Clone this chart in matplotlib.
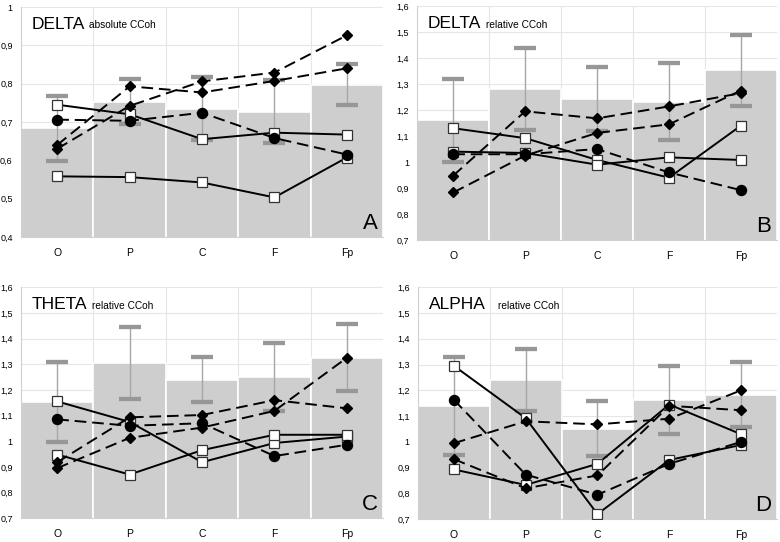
import matplotlib
matplotlib.use('Agg')
import matplotlib.pyplot as plt

plt.rcParams['font.family'] = ['Liberation Sans', 'DejaVu Sans']

regions = ['O', 'P', 'C', 'F', 'Fp']

# ---- Panel A: DELTA absolute CCoh ----
a_mean = [0.683, 0.753, 0.735, 0.727, 0.797]
a_sd = [0.085, 0.058, 0.082, 0.083, 0.053]
a_sq1 = [0.745, 0.720, 0.655, 0.672, 0.667]
a_sq2 = [0.558, 0.556, 0.542, 0.503, 0.607]
a_circ = [0.706, 0.703, 0.724, 0.658, 0.615]
a_dia1 = [0.640, 0.793, 0.777, 0.807, 0.840]
a_dia2 = [0.630, 0.742, 0.806, 0.829, 0.926]
a_yticks = [0.4, 0.5, 0.6, 0.7, 0.8, 0.9, 1.0]
a_yticklabels = ['0,4', '0,5', '0,6', '0,7', '0,8', '0,9', '1']

# ---- Panel B: DELTA relative CCoh ----
b_mean = [1.160, 1.280, 1.243, 1.232, 1.352]
b_sd = [0.160, 0.157, 0.122, 0.148, 0.137]
b_sq1 = [1.130, 1.092, 1.008, 0.940, 1.140]
b_sq2 = [1.040, 1.035, 0.990, 1.018, 1.008]
b_circ = [1.030, 1.030, 1.050, 0.960, 0.892]
b_dia1 = [0.948, 1.195, 1.168, 1.214, 1.265]
b_dia2 = [0.883, 1.025, 1.112, 1.145, 1.275]

# ---- Panel C: THETA relative CCoh ----
c_mean = [1.152, 1.305, 1.240, 1.250, 1.325]
c_sd = [0.156, 0.140, 0.087, 0.133, 0.130]
c_sq1 = [1.155, 1.075, 0.918, 0.993, 1.018]
c_sq2 = [0.948, 0.870, 0.965, 1.025, 1.025]
c_circ = [1.085, 1.060, 1.070, 0.942, 0.986]
c_dia1 = [0.918, 1.093, 1.102, 1.160, 1.128]
c_dia2 = [0.895, 1.013, 1.053, 1.118, 1.325]

# ---- Panel D: ALPHA relative CCoh ----
d_mean = [1.140, 1.240, 1.052, 1.163, 1.183]
d_sd = [0.190, 0.120, 0.106, 0.133, 0.126]
d_sq1 = [1.295, 1.092, 0.720, 0.930, 0.988]
d_sq2 = [0.893, 0.833, 0.915, 1.145, 1.030]
d_circ = [1.163, 0.873, 0.795, 0.915, 1.000]
d_dia1 = [0.995, 1.080, 1.068, 1.090, 1.200]
d_dia2 = [0.933, 0.820, 0.870, 1.140, 1.123]

rel_yticks = [0.7, 0.8, 0.9, 1.0, 1.1, 1.2, 1.3, 1.4, 1.5, 1.6]
rel_yticklabels = ['0,7', '0,8', '0,9', '1', '1,1', '1,2', '1,3', '1,4', '1,5', '1,6']

titles_big = ['DELTA', 'DELTA', 'THETA', 'ALPHA']
titles_small = ['absolute CCoh', 'relative CCoh', 'relative CCoh', 'relative CCoh']
letters = ['A', 'B', 'C', 'D']

fig = plt.figure(figsize=(7.8, 5.42), dpi=100)
positions = [
    [0.027, 0.563, 0.464, 0.424],
    [0.535, 0.557, 0.461, 0.432],
    [0.027, 0.044, 0.464, 0.426],
    [0.536, 0.042, 0.460, 0.428],
]

panels = [
    (a_mean, a_sd, a_sq1, a_sq2, a_circ, a_dia1, a_dia2, a_yticks, a_yticklabels),
    (b_mean, b_sd, b_sq1, b_sq2, b_circ, b_dia1, b_dia2, rel_yticks, rel_yticklabels),
    (c_mean, c_sd, c_sq1, c_sq2, c_circ, c_dia1, c_dia2, rel_yticks, rel_yticklabels),
    (d_mean, d_sd, d_sq1, d_sq2, d_circ, d_dia1, d_dia2, rel_yticks, rel_yticklabels),
]
title_gaps = [3, 3, 3, 9]

x = list(range(len(regions)))
dash = (6, 3)

for i, (pos, data) in enumerate(zip(positions, panels)):
    mean, sd, sq1, sq2, circ, dia1, dia2, yt, ytl = data
    ax = fig.add_axes(pos)
    ax.set_xlim(-0.5, len(regions) - 0.5)
    ax.set_ylim(yt[0], yt[-1])
    # grid
    for y in yt:
        ax.axhline(y, color='#e6e6e6', lw=0.8, zorder=0)
    for xb in [k + 0.5 for k in x[:-1]]:
        ax.axvline(xb, color='#e6e6e6', lw=0.8, zorder=0)
    ax.bar(x, mean, width=1.0, color='#cecece', edgecolor='white', linewidth=1.2, zorder=1)
    ax.errorbar(x, mean, yerr=sd, fmt='none', ecolor='#a6a6a6', elinewidth=1.0,
                capsize=7.8, capthick=3.0, zorder=2)
    # caps darker
    ax.plot(x, [m + s for m, s in zip(mean, sd)], ls='none', marker='_', ms=15.6,
            mew=3.0, color='#979797', zorder=2.1)
    ax.plot(x, [m - s for m, s in zip(mean, sd)], ls='none', marker='_', ms=15.6,
            mew=3.0, color='#979797', zorder=2.1)
    # patients
    for s in (sq1, sq2):
        ax.plot(x, s, color='black', lw=1.4, marker='s', ms=6.6, mfc='white',
                mec='#333333', mew=0.9, zorder=3)
    ax.plot(x, circ, color='black', lw=1.4, dashes=dash, marker='o', ms=7.2,
            mfc='black', mec='black', zorder=4)
    for s in (dia1, dia2):
        ax.plot(x, s, color='black', lw=1.4, dashes=dash, marker='D', ms=5.2,
                mfc='black', mec='black', zorder=5)

    ax.set_xticks(x)
    ax.set_xticklabels(regions, fontsize=7.5)
    ax.set_yticks(yt)
    ax.set_yticklabels(ytl, fontsize=6.5)
    ax.tick_params(axis='both', length=0, pad=8)
    ax.tick_params(axis='y', pad=6)
    for side in ['top', 'right']:
        ax.spines[side].set_visible(False)
    for side in ['left', 'bottom']:
        ax.spines[side].set_color('#d0d0d0')
        ax.spines[side].set_linewidth(0.8)

    t = ax.text(0.03, 0.905, titles_big[i], transform=ax.transAxes, fontsize=12.5,
                ha='left', va='baseline', zorder=6)
    ax.annotate(titles_small[i], xy=(1, 0), xycoords=t, xytext=(title_gaps[i], 1.0),
                textcoords='offset points', fontsize=7.3, ha='left', va='bottom', zorder=6)
    ax.text(0.985, 0.035, letters[i], transform=ax.transAxes, fontsize=16,
            ha='right', va='baseline', zorder=6)

fig.savefig('out.png', dpi=100)
